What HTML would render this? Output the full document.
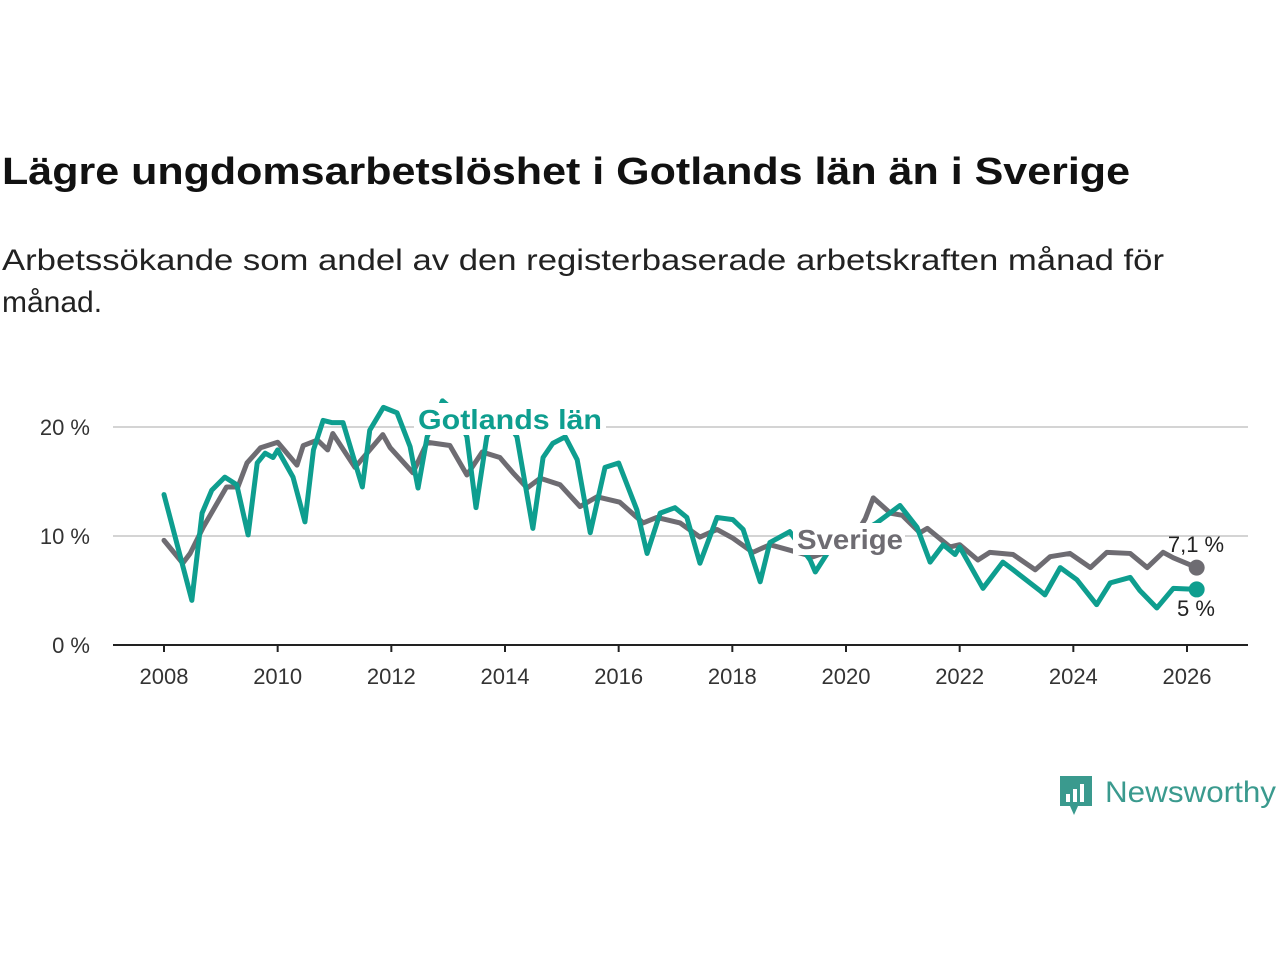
<!DOCTYPE html>
<html><head><meta charset="utf-8"><style>
body{margin:0;background:#fff;width:1280px;height:960px;overflow:hidden;font-family:"Liberation Sans",sans-serif}
</style></head><body>
<svg id="chart" width="1280" height="960" xmlns="http://www.w3.org/2000/svg" font-family="Liberation Sans, sans-serif">
<text x="2" y="184" font-size="38" font-weight="bold" fill="#111" textLength="1128" lengthAdjust="spacingAndGlyphs">Lägre ungdomsarbetslöshet i Gotlands län än i Sverige</text>
<text x="2" y="270" font-size="30" fill="#222" textLength="1162" lengthAdjust="spacingAndGlyphs">Arbetssökande som andel av den registerbaserade arbetskraften månad för</text>
<text x="2" y="312" font-size="30" fill="#222">månad.</text>
<g id="grid"></g>
<g id="xaxis"></g>
<g id="series"></g>
<g>
<path d="M1060 776 h32 v30 h-14 l-4 9 l-4 -9 h-10 z" fill="#3a9a8e"/>
<rect x="1066" y="794" width="4" height="8" fill="#fff"/><rect x="1073" y="789" width="4" height="13" fill="#fff"/><rect x="1080" y="784" width="4" height="18" fill="#fff"/>
<text x="1105" y="802" font-size="30" fill="#3a9a8e" textLength="171" lengthAdjust="spacingAndGlyphs">Newsworthy</text>
</g>
</svg>
<script>
const yearsSe = [2008.0,2008.33,2008.46,2008.69,2009.1,2009.3,2009.46,2009.7,2010.0,2010.34,2010.45,2010.7,2010.88,2010.97,2011.36,2011.85,2011.98,2012.38,2012.63,2013.03,2013.33,2013.6,2013.91,2014.14,2014.39,2014.62,2014.97,2015.32,2015.62,2016.02,2016.43,2016.67,2017.08,2017.43,2017.73,2018.01,2018.36,2018.66,2019.01,2019.42,2019.7,2020.0,2020.34,2020.48,2020.78,2020.99,2021.3,2021.43,2021.83,2022.0,2022.32,2022.53,2022.94,2023.33,2023.59,2023.94,2024.3,2024.59,2025.0,2025.3,2025.58,2025.76,2026.17];
const valuesSe = [9.6,7.5,8.4,10.8,14.5,14.5,16.7,18.1,18.6,16.5,18.3,18.8,17.9,19.4,16.3,19.3,18.1,15.8,18.6,18.3,15.6,17.7,17.2,15.8,14.4,15.3,14.7,12.7,13.6,13.1,11.2,11.7,11.2,9.9,10.6,9.8,8.5,9.2,8.7,8.1,8.6,8.6,11.6,13.5,12.1,11.9,10.3,10.7,9.0,9.2,7.8,8.5,8.3,6.9,8.1,8.4,7.1,8.5,8.4,7.1,8.5,8.0,7.1];
const yearsGo = [2008.0,2008.49,2008.67,2008.84,2009.07,2009.28,2009.48,2009.64,2009.78,2009.92,2010.0,2010.27,2010.48,2010.63,2010.8,2010.96,2011.15,2011.49,2011.62,2011.86,2012.1,2012.33,2012.47,2012.63,2012.9,2013.1,2013.33,2013.49,2013.68,2013.9,2014.21,2014.49,2014.67,2014.84,2015.06,2015.27,2015.5,2015.76,2016.0,2016.32,2016.5,2016.73,2016.99,2017.2,2017.43,2017.73,2018.01,2018.19,2018.49,2018.66,2019.01,2019.37,2019.46,2019.67,2020.0,2020.54,2020.95,2021.25,2021.48,2021.71,2021.92,2022.0,2022.41,2022.76,2022.94,2023.41,2023.5,2023.77,2024.06,2024.41,2024.65,2025.0,2025.17,2025.47,2025.76,2026.17];
const valuesGo = [13.8,4.1,12.1,14.2,15.4,14.7,10.1,16.7,17.6,17.2,17.9,15.4,11.3,17.9,20.6,20.4,20.4,14.5,19.7,21.8,21.3,18.2,14.4,19.1,22.4,21.5,19.1,12.6,19.1,21.5,19.1,10.7,17.2,18.5,19.1,17.0,10.3,16.3,16.7,12.4,8.4,12.1,12.6,11.7,7.5,11.7,11.5,10.6,5.8,9.4,10.4,7.8,6.7,8.4,9.5,11.2,12.8,10.8,7.6,9.2,8.3,9.0,5.2,7.6,6.9,5.0,4.6,7.1,6.0,3.7,5.7,6.2,5.0,3.4,5.2,5.1];
const yTicks = [0,10,20];
const yTickLabels = ["0 %","10 %","20 %"];
const xTicks = [2008,2010,2012,2014,2016,2018,2020,2022,2024,2026];

const NS="http://www.w3.org/2000/svg";
const X = y => 164 + (y-2008)*(1187-164)/18;
const Y = v => 645 - v*10.9;
function mk(tag, attrs, parent){const e=document.createElementNS(NS,tag);for(const k in attrs)e.setAttribute(k,attrs[k]);parent.appendChild(e);return e;}
const grid=document.getElementById('grid'), xa=document.getElementById('xaxis'), ser=document.getElementById('series');
yTicks.forEach((t,i)=>{
  if(t>0){const l=mk('line',{x1:113,x2:1248,y1:Y(t),y2:Y(t),stroke:'#d4d4d4','stroke-width':2},grid);
  
  }
  const tx=mk('text',{x:90,y:Y(t)+8,'font-size':22,fill:'#333','text-anchor':'end'},grid);tx.textContent=yTickLabels[i];
  
  
});
const ax=mk('line',{x1:113,x2:1248,y1:645,y2:645,stroke:'#222','stroke-width':2},xa);


xTicks.forEach(t=>{
  mk('line',{x1:X(t),x2:X(t),y1:645,y2:652,stroke:'#222','stroke-width':2},xa);
  const tx=mk('text',{x:X(t),y:684,'font-size':22,fill:'#333','text-anchor':'middle'},xa);tx.textContent=t;
  
  
});
function line(xs,vs,color,name){
  const p=mk('polyline',{points:xs.map((x,i)=>X(x)+','+Y(vs[i])).join(' '),fill:'none',stroke:color,'stroke-width':5,'stroke-linejoin':'round','stroke-linecap':'round'},ser);
  
  
  const c=mk('circle',{cx:X(xs[xs.length-1]),cy:Y(vs[vs.length-1]),r:8,fill:color},ser);
  
  
}
line(yearsSe,valuesSe,'#6e6c72','line-sverige');
line(yearsGo,valuesGo,'#0e9e8f','line-gotland');
function label(txt,x,y,color,w,tl,name){
  mk('rect',{x:x-4,y:y-26,width:w,height:32,fill:'#fff'},ser);
  const t=mk('text',{x:x,y:y,'font-size':28,'font-weight':'bold',fill:color,textLength:tl,lengthAdjust:'spacingAndGlyphs'},ser);t.textContent=txt;
  
  
}
label('Gotlands län',418,429,'#0e9e8f',192,184,'label-gotland');
label('Sverige',797,549,'#6e6c72',112,106,'label-sverige');
const e1=mk('text',{x:1196,y:552,'font-size':22,fill:'#222','text-anchor':'middle'},ser);e1.textContent=valuesSe[valuesSe.length-1].toFixed(1).replace('.',',')+' %';


const e2=mk('text',{x:1196,y:616,'font-size':22,fill:'#222','text-anchor':'middle'},ser);e2.textContent=Math.round(valuesGo[valuesGo.length-1])+' %';


</script>
</body></html>
